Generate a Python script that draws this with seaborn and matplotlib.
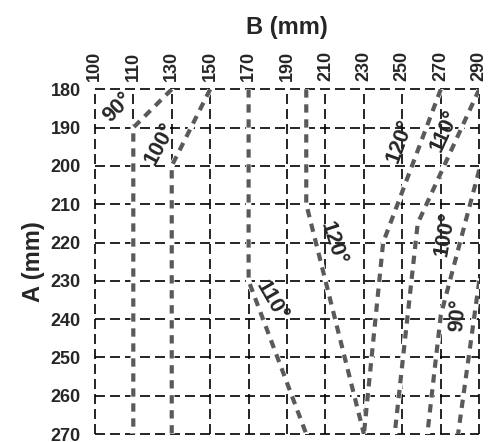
import numpy as np
import pandas as pd
import seaborn as sns
import matplotlib.pyplot as plt

# B positions on the axis and the labels printed at them
b_tick_pos = [90, 110, 130, 150, 170, 190, 210, 230, 250, 270, 290]
b_tick_labels = [100, 110, 130, 150, 170, 190, 210, 230, 250, 270, 290]
a_ticks = [180, 190, 200, 210, 220, 230, 240, 250, 260, 270]

# angle curves (B, A)
b_90_left = [130, 110, 110]
a_90_left = [180, 190, 270]
b_100_left = [150, 130, 130]
a_100_left = [180, 200, 270]
b_110_left = [170, 170, 200]
a_110_left = [180, 230, 270]
b_120_left = [200, 200, 230]
a_120_left = [180, 210, 270]
b_120_right = [270, 240, 230]
a_120_right = [180, 220, 270]
b_110_right = [290, 258, 246]
a_110_right = [180, 215, 270]
b_100_right = [290, 270, 263]
a_100_right = [201, 239, 270]
b_90_right = [290, 279]
a_90_right = [230, 270]

# labels: text, B, A, rotation
label_text = ["90°", "100°", "110°", "120°", "120°", "110°", "100°", "90°"]
label_b = [102, 124, 182, 214, 249, 272, 272, 279]
label_a = [184.7, 194.3, 235.4, 220.3, 193.5, 190.9, 217.7, 239]
label_rot = [45, 62, -60, -72, 70, 65, 80, 85]

curves = {
    "90L": (b_90_left, a_90_left),
    "100L": (b_100_left, a_100_left),
    "110L": (b_110_left, a_110_left),
    "120L": (b_120_left, a_120_left),
    "120R": (b_120_right, a_120_right),
    "110R": (b_110_right, a_110_right),
    "100R": (b_100_right, a_100_right),
    "90R": (b_90_right, a_90_right),
}
rows = []
for name, (bs, As) in curves.items():
    for i, (b, a) in enumerate(zip(bs, As)):
        rows.append({"curve": name, "order": i, "B": b, "A": a})
df = pd.DataFrame(rows)

sns.set_style("white")
plt.rcParams["font.family"] = ["Liberation Sans", "DejaVu Sans"]
plt.rcParams["font.weight"] = "bold"

fig = plt.figure(figsize=(4.89, 4.42), dpi=100)
ax = fig.add_axes([0.194, 0.018, 0.786, 0.780])

# white underlay so the grid does not show through the gaps
sns.lineplot(data=df, x="B", y="A", units="curve", estimator=None, sort=False,
             color="white", linewidth=4.0, ax=ax, zorder=3)
sns.lineplot(data=df, x="B", y="A", units="curve", estimator=None, sort=False,
             color="#5a5a5a", linewidth=3.0, linestyle=(0, (2.0, 1.6)), ax=ax, zorder=4)

for t, b, a, r in zip(label_text, label_b, label_a, label_rot):
    ax.text(b, a, t, rotation=r, ha="center", va="center", fontsize=15.5,
            fontweight="bold", rotation_mode="anchor", zorder=5)

ax.set_xlim(90, 290)
ax.set_ylim(270, 180)
ax.set_xticks(b_tick_pos)
ax.set_xticklabels([str(v) for v in b_tick_labels], rotation=90, fontsize=13, fontweight="bold")
ax.set_yticks(a_ticks)
ax.set_yticklabels([str(v) for v in a_ticks], fontsize=13, fontweight="bold")
ax.xaxis.tick_top()
ax.xaxis.set_label_position("top")
ax.tick_params(axis="x", length=0, pad=6)
ax.tick_params(axis="y", length=0, pad=10)
ax.set_xlabel("B (mm)", fontsize=17, fontweight="bold", labelpad=12)
ax.set_ylabel("A (mm)", fontsize=17, fontweight="bold", labelpad=4)

ax.grid(True, color="black", linestyle=(0, (6, 3)), linewidth=1.2)
for gl in ax.get_xgridlines() + ax.get_ygridlines():
    gl.set_clip_on(False)
for s in ax.spines.values():
    s.set_visible(False)

fig.savefig("out.png", dpi=100)
